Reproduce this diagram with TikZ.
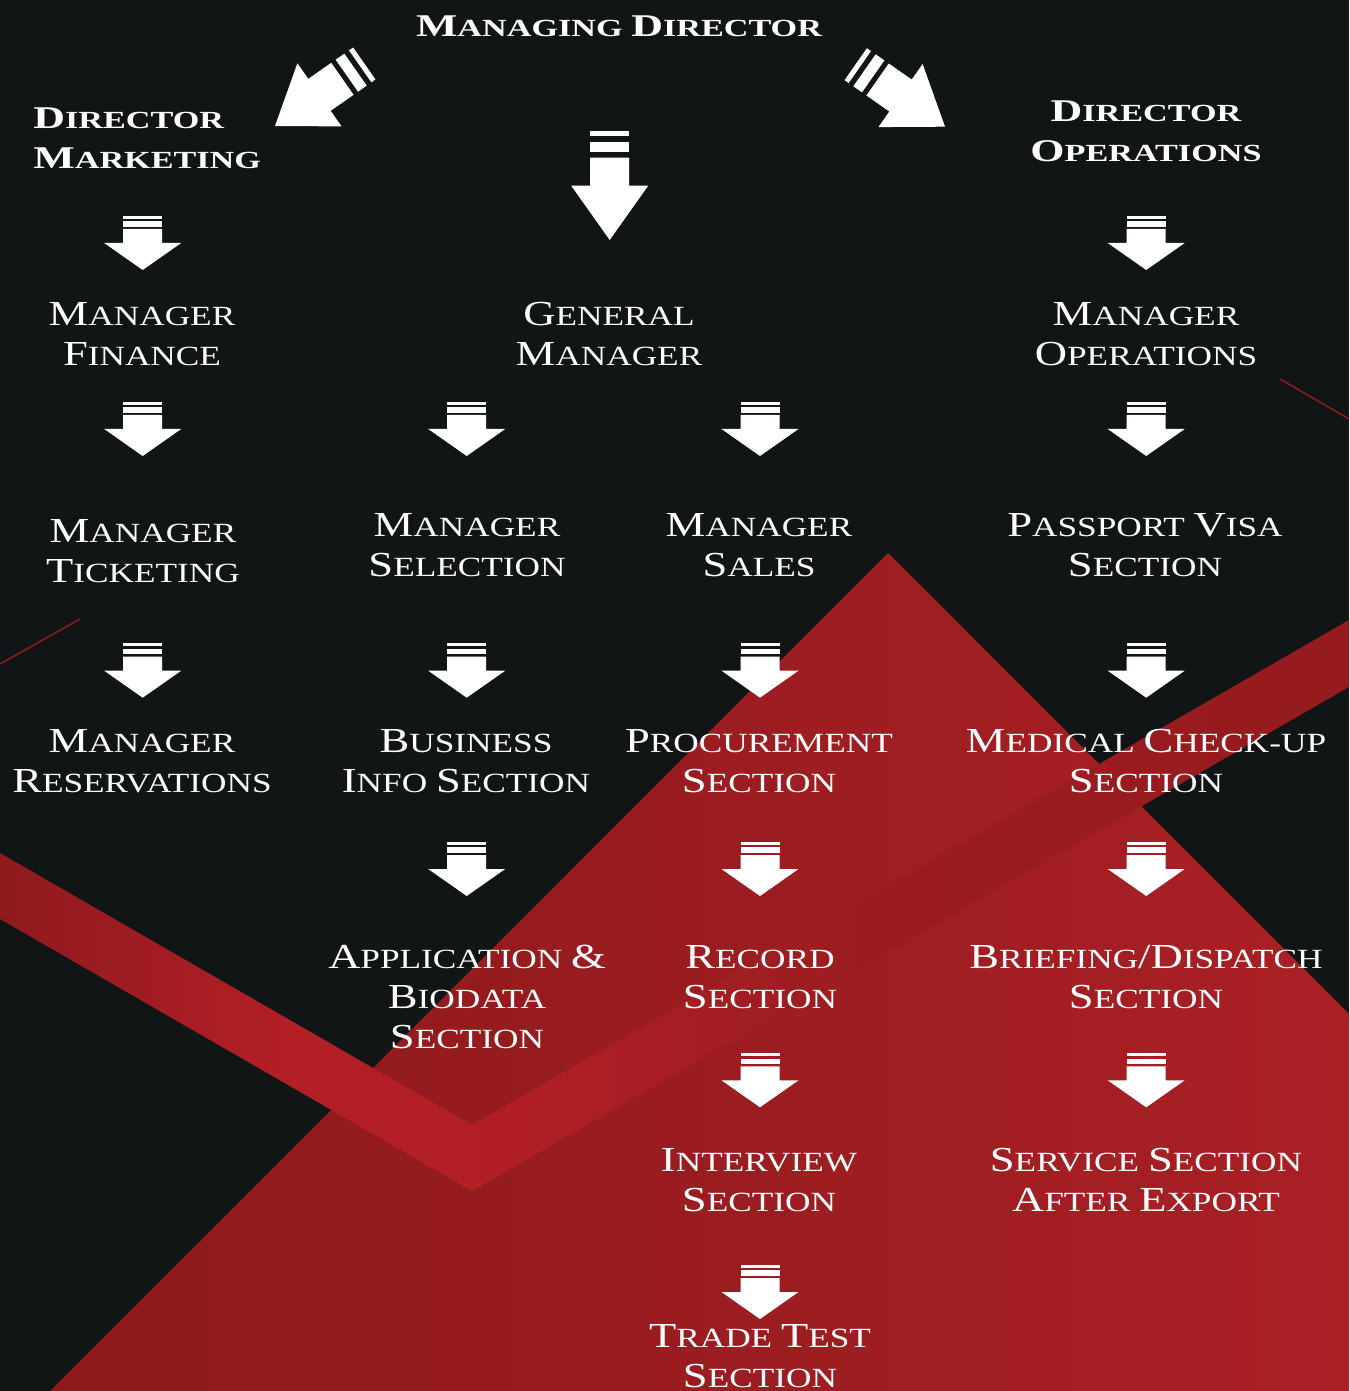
\documentclass[tikz,border=0pt]{standalone}
\usepackage{fontspec}
\setmainfont{Liberation Serif}
\newfontfamily\cpreg{Liberation Serif}[FakeStretch=1.27]
\newfontfamily\cpbold{Liberation Serif}[FakeStretch=1.39]
\newcommand\Cr[2]{{\fontsize{20}{22.8}\selectfont #1}\MakeUppercase{#2}}
\newcommand\Cb[2]{{\fontsize{18}{22.8}\selectfont #1}\MakeUppercase{#2}}
\newcommand\Bg[1]{{\fontsize{20}{22.8}\selectfont #1}}
\definecolor{bg}{HTML}{121516}
\definecolor{triL}{HTML}{8C191C}
\definecolor{triR}{HTML}{A92025}
\definecolor{thinred}{HTML}{8F1B1F}
\definecolor{bA}{HTML}{8E1A1E}
\definecolor{bB}{HTML}{B41F26}
\definecolor{bC}{HTML}{B11F25}
\definecolor{bD}{HTML}{A31E23}
\definecolor{bF}{HTML}{9A1C20}
\definecolor{bE}{HTML}{951B1F}
\pgfdeclarehorizontalshading{bandshade}{100bp}{color(0bp)=(bA); color(25bp)=(bA); color(36bp)=(bB); color(44bp)=(bC); color(51bp)=(bD); color(58bp)=(bF); color(75bp)=(bE); color(100bp)=(bE)}
\tikzset{
  lbl/.style={text=white, align=center, inner sep=0pt, font=\cpreg\fontsize{15.8}{22.8}\selectfont},
  ttl/.style={text=white, inner sep=0pt, font=\cpbold\bfseries\fontsize{14}{22.8}\selectfont},
  pics/smallarrow/.style={code={
    \fill[white] (-19.5,41)--(-19.5,27)--(-38.5,27)--(0,0)--(38.5,27)--(19.5,27)--(19.5,41)--cycle;
    \fill[white] (-19.5,43.3) rectangle (19.5,48.7);
    \fill[white] (-19.5,51.3) rectangle (19.5,54.3);
  }},
  pics/bigarrow/.style={code={
    \fill[white] (-19.5,82.3)--(-19.5,54.3)--(-38.5,54.3)--(0,0)--(38.5,54.3)--(19.5,54.3)--(19.5,82.3)--cycle;
    \fill[white] (-19.5,87.7) rectangle (19.5,98.3);
    \fill[white] (-19.5,104) rectangle (19.5,109);
  }}
}
\begin{document}
\begin{tikzpicture}[x=0.02cm, y=0.02cm]
\useasboundingbox (0,0) rectangle (1349,-1391);
\fill[bg] (0,0) rectangle (1349,-1391);
\begin{scope}
\clip (0,0) rectangle (1349,-1391);
\shade[left color=triL, right color=triR] (888,-553) -- (50,-1391) -- (1349,-1391) -- (1349,-1014) -- cycle;
\shade[shading=bandshade] (0,-853) -- (472,-1125) -- (1349,-620) -- (1349,-687) -- (472,-1191) -- (0,-919) -- cycle;
\draw[draw=thinred, line width=0.03cm] (1280,-379) -- (1349,-419);
\draw[draw=thinred, line width=0.03cm] (0,-664) -- (80,-619);
\end{scope}

% arrows
\pic at (609.7,-240) {bigarrow};
\pic[rotate=-55] at (275,-126) {bigarrow};
\pic[rotate=55] at (945,-126.7) {bigarrow};
\foreach \x in {142.7,1146.2} \pic at (\x,-270) {smallarrow};
\foreach \x in {142.7,466.7,760,1146.2} \pic at (\x,-456) {smallarrow};
\foreach \x in {142.7,466.7,760,1146.2} \pic at (\x,-697.7) {smallarrow};
\foreach \x in {466.7,760,1146.2} \pic at (\x,-896) {smallarrow};
\foreach \x in {760,1146.2} \pic at (\x,-1107.3) {smallarrow};
\pic at (760,-1319) {smallarrow};

% titles
\node[ttl] (md) at (619,-26) {\Cb{M}{anaging} \Cb{D}{irector}};
\node[ttl, align=left, anchor=west] (dm) at (33,-138) {\Cb{D}{irector}\\\Cb{M}{arketing}};
\node[ttl, align=center] (do) at (1146,-131) {\Cb{D}{irector}\\\Cb{O}{perations}};

% labels
\node[lbl] (mf) at (142,-334) {\Cr{M}{anager}\\\Cr{F}{inance}};
\node[lbl] (gm) at (609,-334) {\Cr{G}{eneral}\\\Cr{M}{anager}};
\node[lbl] (mo) at (1146,-334) {\Cr{M}{anager}\\\Cr{O}{perations}};
\node[lbl] (mt) at (143,-551) {\Cr{M}{anager}\\\Cr{T}{icketing}};
\node[lbl] (ms) at (467,-545) {\Cr{M}{anager}\\\Cr{S}{election}};
\node[lbl] (msa) at (759,-545) {\Cr{M}{anager}\\\Cr{S}{ales}};
\node[lbl] (pv) at (1145,-545) {\Cr{P}{assport} \Cr{V}{isa}\\\Cr{S}{ection}};
\node[lbl] (mr) at (142,-761) {\Cr{M}{anager}\\\Cr{R}{eservations}};
\node[lbl] (bi) at (466,-761) {\Cr{B}{usiness}\\\Cr{I}{nfo} \Cr{S}{ection}};
\node[lbl] (pr) at (759,-761) {\Cr{P}{rocurement}\\\Cr{S}{ection}};
\node[lbl] (mc) at (1146,-761) {\Cr{M}{edical} \Cr{C}{heck-up}\\\Cr{S}{ection}};
\node[lbl] (ab) at (467,-997) {\Cr{A}{pplication} \Bg{\&}\\\Cr{B}{iodata}\\\Cr{S}{ection}};
\node[lbl] (rs) at (760,-977) {\Cr{R}{ecord}\\\Cr{S}{ection}};
\node[lbl] (bd) at (1146,-977) {\Cr{B}{riefing}\Bg{/}\Cr{D}{ispatch}\\\Cr{S}{ection}};
\node[lbl] (is) at (759,-1180) {\Cr{I}{nterview}\\\Cr{S}{ection}};
\node[lbl] (ss) at (1146,-1180) {\Cr{S}{ervice} \Cr{S}{ection}\\\Cr{A}{fter} \Cr{E}{xport}};
\node[lbl] (tt) at (760,-1356) {\Cr{T}{rade} \Cr{T}{est}\\\Cr{S}{ection}};
\end{tikzpicture}
\end{document}
